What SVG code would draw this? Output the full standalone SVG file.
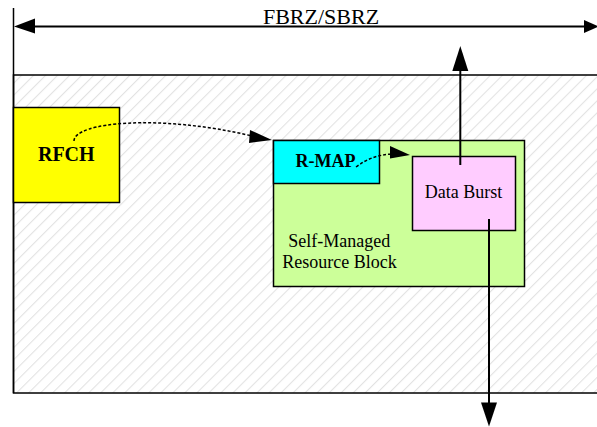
<svg xmlns="http://www.w3.org/2000/svg" width="597" height="427" viewBox="0 0 597 427">
<defs>
<pattern id="hatch" patternUnits="userSpaceOnUse" width="8.5" height="8.5" patternTransform="rotate(45)">
<line x1="0" y1="0" x2="0" y2="8.5" stroke="#e2e2e2" stroke-width="2.2"/>
</pattern>
</defs>
<style>
.t{font-family:"Liberation Serif","Times New Roman",serif;fill:#000}
.box{stroke:#000;stroke-width:1.5}
.ln{stroke:#000;stroke-width:2;fill:none}
.dl{stroke:#000;stroke-width:1.5;fill:none;stroke-dasharray:3,2}
.hd{fill:#000}
</style>
<rect width="597" height="427" fill="#fff"/>
<g id="zone">
<rect x="13.5" y="75" width="590" height="318" fill="url(#hatch)" stroke="#000" stroke-width="1.5"/>
<line x1="13.5" y1="8" x2="13.5" y2="393" stroke="#000" stroke-width="1.5"/>
</g>
<g id="rfch">
<rect class="box" x="13.5" y="107.5" width="106" height="95" fill="#ffff00"/>
<text class="t" x="66.3" y="161" font-size="20" font-weight="bold" text-anchor="middle">RFCH</text>
</g>
<g id="smrb">
<rect class="box" x="273.5" y="140.5" width="251" height="146" fill="#ccff99"/>
<text class="t" x="339.3" y="246.7" font-size="18" text-anchor="middle">Self-Managed</text>
<text class="t" x="339.5" y="268.3" font-size="18" text-anchor="middle">Resource Block</text>
</g>
<g id="rmap">
<rect class="box" x="273.5" y="140.5" width="106" height="43" fill="#00ffff"/>
<text class="t" x="325.5" y="166.7" font-size="18" font-weight="bold" text-anchor="middle">R-MAP</text>
</g>
<g id="burst">
<rect class="box" x="412.5" y="156.5" width="103" height="74" fill="#ffccff"/>
<text class="t" x="463.5" y="198" font-size="18" text-anchor="middle">Data Burst</text>
</g>
<g id="connectors">
<line class="ln" x1="20" y1="26.5" x2="590" y2="26.5"/>
<path class="hd" d="M35,18.5 L14,26.5 L35,33.5 z"/>
<path class="hd" d="M584,20 L599,26.5 L584,33 z"/>
<text class="t" x="321" y="24" font-size="22" text-anchor="middle">FBRZ/SBRZ</text>
<path class="dl" d="M74,141 C74,122 160,114 252,136"/>
<path class="hd" d="M250,130 L272,140 L249,143 z"/>
<path class="dl" d="M356,167 C368,158 378,155 392,154"/>
<path class="hd" d="M390,146 L410,155 L390,158.5 z"/>
<line class="ln" x1="460.3" y1="165" x2="460.3" y2="65"/>
<path class="hd" d="M452.3,71 L460.3,46 L468.3,71 z"/>
<line class="ln" x1="489" y1="219" x2="489" y2="405"/>
<path class="hd" d="M481,402.5 L489,426.5 L497,402.5 z"/>
</g>
</svg>
